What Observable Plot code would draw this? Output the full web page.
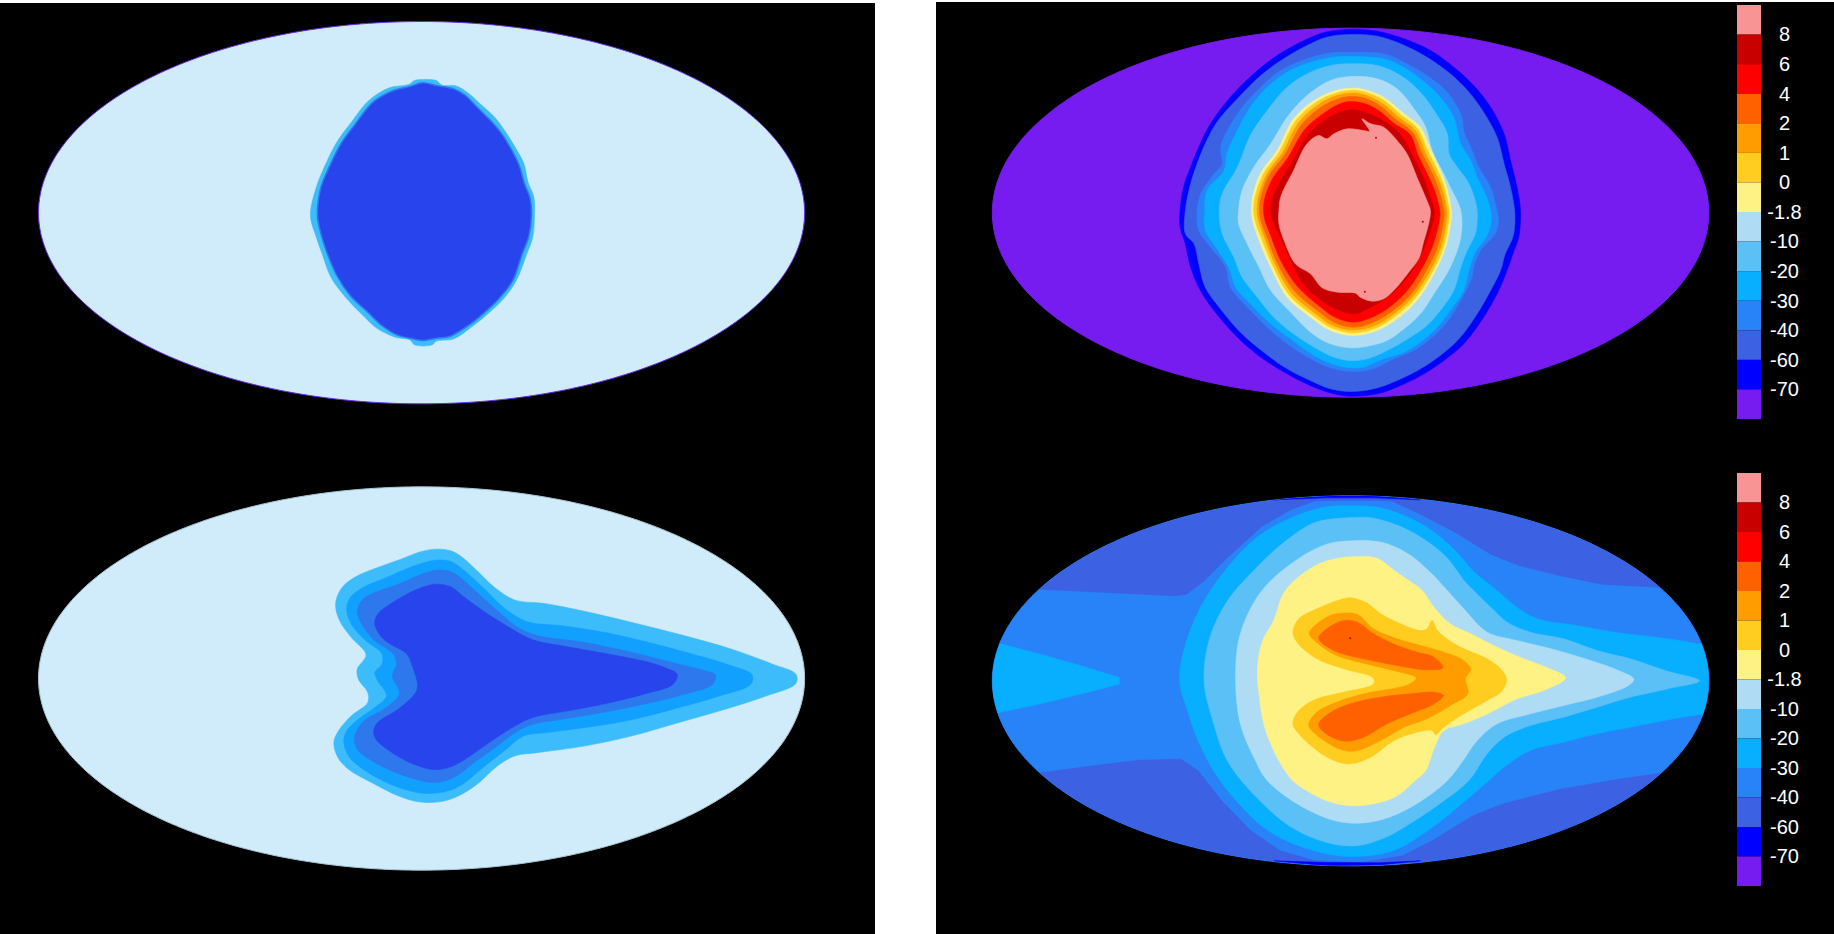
<!DOCTYPE html>
<html>
<head>
<meta charset="utf-8">
<script src="https://cdn.jsdelivr.net/npm/d3@7"></script>
<script src="https://cdn.jsdelivr.net/npm/@observablehq/plot@0.6"></script>
<style>
html,body{margin:0;padding:0;background:#fff;}
#page{position:relative;width:1834px;height:934px;overflow:hidden;background:#fff;}
</style>
</head>
<body>
<div id="page"></div>
<script>
// Contour levels and their colours
const tickLabels = ["8","6","4","2","1","0","-1.8","-10","-20","-30","-40","-60","-70"];
const levelColors = ["#f99494","#c80000","#ff0000","#ff6000","#ff9c00","#ffcc20","#fff285","#aedcf5","#5ac0f5","#08aeff","#2882f8","#3c61e2","#0000ff","#761cf0"];
const leftColors = {base:"#d0ebfa", ring1:"#3cbcfa", ring2:"#12a0ff", ring3:"#2e78ee", core:"#2844ec"};

// Map extents [xmin,xmax,ymin,ymax] in map units
const extentA = [65,1375,63,1210];
const extentB = [128,1353,83,1190];
const extentC = [65,1375,58,1208];
const extentD = [128,1353,85,1195];

// Panel A (top left) contours
const a_ring = [[722,237],[745,240],[755,254],[778,256],[800,278],[820,310],[845,350],[862,390],[880,440],[895,490],[902,545],[912,590],[913,640],[910,710],[900,760],[882,840],[860,895],[830,945],[805,980],[775,1015],[745,1022],[738,1033],[708,1033],[700,1018],[675,1010],[645,985],[620,945],[590,890],[565,830],[550,760],[540,710],[530,645],[540,560],[555,495],[575,425],[600,365],[630,300],[665,262],[698,252],[708,240]];
const a_core = [[722,247],[745,255],[775,265],[795,285],[815,320],[838,360],[855,395],[873,445],[887,495],[896,550],[905,590],[908,640],[903,710],[892,760],[876,840],[853,893],[825,940],[800,975],[768,1008],[745,1013],[722,1020],[705,1015],[678,1003],[652,975],[628,935],[598,885],[575,825],[558,755],[548,700],[542,645],[548,560],[562,500],[582,430],[607,370],[637,305],[672,270],[700,258]];

// Panel C (bottom left) contours
const c_ring1 = [[745,245],[770,250],[790,270],[815,310],[845,360],[880,398],[930,408],[1000,432],[1080,465],[1170,505],[1250,545],[1320,590],[1360,620],[1360,648],[1310,685],[1230,730],[1160,765],[1080,805],[1000,835],[920,855],[880,865],[850,895],[815,950],[780,988],[750,1003],[715,1003],[680,985],[640,950],[595,905],[577,870],[570,825],[578,790],[600,745],[628,705],[628,675],[612,635],[610,605],[625,562],[600,510],[580,460],[573,410],[582,365],[605,330],[645,300],[685,275],[720,252]];
const c_ring2 = [[745,278],[770,282],[790,305],[825,360],[860,420],[885,450],[905,465],[960,475],[1040,497],[1120,530],[1200,568],[1250,595],[1285,622],[1283,650],[1230,685],[1150,725],[1070,760],[1000,780],[935,795],[895,805],[865,845],[825,900],[790,950],[765,970],[730,978],[700,970],[660,945],[620,905],[597,870],[587,825],[592,790],[612,755],[640,720],[660,685],[645,640],[640,615],[652,590],[652,558],[625,520],[600,470],[592,425],[598,390],[620,360],[660,330],[700,300],[725,285]];
const c_ring3 = [[745,308],[770,312],[790,335],[815,375],[850,430],[885,480],[920,505],[1000,525],[1080,555],[1160,590],[1205,610],[1222,622],[1218,650],[1170,680],[1100,710],[1030,735],[960,755],[910,770],[885,790],[850,835],[810,885],[775,930],[745,945],[720,940],[680,918],[640,885],[612,850],[605,815],[612,780],[625,755],[655,725],[682,680],[670,625],[677,590],[672,560],[640,520],[618,470],[610,430],[620,395],[640,375],[680,350],[720,320]];
const c_core = [[745,350],[770,358],[790,385],[825,430],[870,480],[910,517],[960,535],[1040,560],[1110,585],[1140,603],[1157,620],[1150,650],[1100,680],[1030,710],[970,730],[910,750],[880,775],[840,820],[785,885],[760,903],[735,905],[700,885],[665,850],[642,815],[638,790],[645,765],[680,725],[710,675],[713,650],[703,590],[695,560],[655,515],[640,470],[645,440],[680,395],[720,360]];

// Panel B (top right) contours
const b_m70 = [[740,87],[786,92],[832,115],[877,150],[917,200],[951,255],[980,320],[1003,400],[1014,480],[1025,560],[1031,630],[1028,710],[1020,750],[1008,810],[991,880],[968,950],[934,1030],[900,1080],[866,1120],[826,1155],[786,1180],[740,1187],[712,1180],[678,1160],[632,1120],[587,1070],[547,1010],[507,930],[484,870],[467,800],[458,730],[449,680],[449,630],[455,560],[467,500],[481,440],[501,370],[535,290],[575,220],[615,165],[661,120],[698,95]];
const b_m60 = [[740,102],[786,107],[826,130],[871,170],[911,220],[943,275],[968,335],[991,410],[1003,490],[1014,560],[1021,630],[1021,680],[1017,715],[1005,760],[997,810],[980,870],[957,940],[926,1015],[894,1065],[860,1105],[820,1140],[780,1165],[740,1173],[706,1165],[678,1145],[632,1105],[592,1055],[552,995],[518,925],[492,860],[481,790],[473,730],[458,700],[458,630],[467,550],[478,490],[492,430],[512,365],[547,295],[587,225],[626,175],[666,135],[700,110]];
const b_m40 = [[740,155],[797,160],[832,185],[871,225],[906,275],[931,350],[934,390],[951,460],[960,500],[980,560],[991,630],[994,660],[988,700],[963,750],[951,800],[948,830],[929,900],[903,970],[877,1015],[849,1050],[815,1075],[780,1105],[740,1113],[703,1100],[672,1075],[632,1030],[598,980],[564,920],[535,860],[527,800],[501,740],[481,690],[478,630],[484,580],[507,520],[521,490],[518,440],[547,340],[581,270],[621,210],[666,175],[706,157]];
const b_m30 = [[740,168],[797,175],[826,195],[860,235],[894,290],[917,350],[929,430],[946,480],[957,530],[971,580],[980,630],[981,660],[974,705],[954,755],[943,810],[934,870],[911,930],[889,980],[860,1025],[832,1055],[797,1075],[763,1100],[740,1102],[712,1092],[678,1065],[638,1015],[604,970],[569,910],[544,860],[532,800],[510,740],[492,690],[491,630],[495,570],[524,510],[529,460],[544,400],[569,320],[598,260],[632,215],[672,185],[712,170]];
const b_m20 = [[740,190],[786,195],[826,225],[860,275],[889,345],[906,400],[909,460],[923,500],[940,540],[952,590],[957,630],[957,660],[954,700],[940,750],[929,800],[917,870],[894,930],[871,975],[843,1010],[803,1050],[769,1075],[740,1080],[712,1070],[678,1040],[643,1000],[609,950],[581,890],[555,830],[541,770],[521,700],[516,630],[521,580],[544,510],[552,480],[569,405],[598,330],[632,260],[672,215],[706,195]];
const b_m10 = [[740,228],[786,235],[820,265],[849,325],[869,380],[880,450],[897,510],[911,560],[929,630],[929,710],[911,800],[883,880],[860,940],[832,985],[803,1020],[775,1035],[740,1042],[706,1030],[672,995],[638,935],[604,870],[584,800],[561,720],[549,670],[549,630],[555,570],[575,500],[604,430],[632,350],[666,285],[706,240]];
const b_m2 = [[740,263],[763,267],[797,290],[832,340],[860,380],[877,445],[889,490],[903,550],[913,630],[913,650],[903,740],[883,820],[854,900],[820,955],[786,990],[746,1005],[706,990],[672,950],[632,890],[604,800],[584,720],[572,650],[572,600],[586,520],[615,450],[643,355],[678,300],[712,272]];
const b_0 = [[740,270],[763,274],[795,297],[828,345],[855,385],[872,450],[885,495],[899,552],[909,630],[909,650],[899,740],[879,818],[850,895],[816,948],[784,982],[746,997],[708,982],[676,944],[636,884],[608,797],[589,717],[576,650],[576,600],[591,522],[619,453],[647,360],[682,305],[714,279]];
const b_1 = [[740,278],[762,282],[792,305],[824,352],[851,390],[868,455],[881,500],[895,555],[905,630],[905,650],[895,738],[875,815],[846,890],[813,942],[782,975],[746,988],[710,975],[680,938],[640,878],[612,793],[594,714],[582,650],[582,600],[596,525],[624,457],[652,366],[686,312],[716,286]];
const b_2 = [[740,288],[762,292],[790,315],[820,360],[847,396],[863,460],[876,505],[890,560],[900,630],[900,650],[890,735],[870,810],[842,885],[809,935],[779,965],[746,980],[712,965],[684,930],[644,870],[616,790],[598,712],[586,650],[586,600],[600,528],[628,462],[657,372],[690,320],[718,296]];
const b_4 = [[740,303],[765,310],[788,330],[814,368],[842,402],[856,465],[870,515],[884,570],[893,630],[893,650],[882,730],[862,805],[835,875],[803,925],[775,952],[746,965],[716,952],[688,918],[650,858],[622,783],[604,705],[593,650],[593,600],[607,535],[634,470],[663,385],[695,338],[720,312]];
const b_6 = [[740,328],[770,338],[800,365],[825,400],[845,460],[862,520],[875,580],[883,630],[883,650],[870,725],[850,800],[820,865],[795,900],[770,925],[746,940],[720,928],[695,905],[660,850],[640,785],[622,715],[606,650],[606,600],[625,530],[645,470],[672,395],[705,350]];
const b_8 = [[760,355],[775,370],[797,380],[820,420],[837,460],[854,530],[871,600],[877,630],[874,670],[866,720],[857,775],[840,815],[817,865],[797,895],[777,902],[757,890],[749,878],[718,875],[692,862],[672,820],[646,790],[629,730],[618,670],[618,630],[621,590],[643,510],[666,430],[686,405],[700,415],[712,400],[735,385],[763,390],[773,392]];
const b_spots = [[784,412],[864,664],[765,874]];

// Panel D (bottom right) contours
const d_capTop = [[0,365],[210,365],[440,385],[460,380],[490,340],[530,270],[590,175],[640,125],[680,100],[760,98],[810,100],[860,140],[920,195],[980,260],[1030,295],[1100,325],[1170,350],[1280,360],[1400,360],[1400,0],[0,0]];
const d_capBottom = [[0,915],[215,915],[300,895],[380,878],[450,875],[480,910],[520,1000],[570,1090],[620,1150],[680,1180],[760,1185],[830,1165],[880,1120],[950,1045],[1000,1010],[1100,965],[1200,935],[1280,915],[1400,915],[1400,1300],[0,1300]];
const d_poleTop = [[610,97],[700,91],[780,91],[860,97],[780,85],[700,85]];
const d_poleBottom = [[610,1180],[700,1185],[790,1186],[860,1180],[790,1192],[700,1195]];
const d_wing = [[100,525],[145,530],[220,565],[290,600],[345,630],[345,650],[290,675],[220,705],[140,735],[100,745]];
const d_m30 = [[745,115],[790,120],[840,150],[880,190],[920,250],[950,310],[991,369],[1025,419],[1060,454],[1128,474],[1191,494],[1290,515],[1345,530],[1400,525],[1400,740],[1345,740],[1219,779],[1162,799],[1105,824],[1048,849],[1003,899],[977,939],[930,1010],[880,1080],[820,1145],[770,1165],[720,1165],[660,1140],[600,1090],[550,1010],[510,920],[480,820],[460,720],[448,640],[460,520],[490,400],[530,300],[580,210],[640,150],[700,118]];
const d_m20 = [[745,150],[780,152],[830,180],[870,220],[905,270],[935,340],[951,369],[986,429],[1008,464],[1048,494],[1105,514],[1162,549],[1219,574],[1280,610],[1337,640],[1280,665],[1219,689],[1162,719],[1105,749],[1048,774],[1003,809],[974,859],[943,939],[900,1000],[850,1060],[800,1110],[750,1135],[700,1125],[640,1080],[580,990],[530,880],[505,760],[490,640],[500,510],[530,400],[580,300],[630,220],[680,165]];
const d_m10 = [[745,220],[795,225],[840,260],[880,320],[906,369],[934,424],[974,494],[1025,519],[1094,549],[1151,579],[1200,610],[1225,635],[1215,655],[1162,689],[1105,714],[1048,739],[991,769],[957,819],[929,889],[906,939],[870,990],[820,1040],[770,1065],[720,1062],[660,1020],[598,939],[575,869],[552,769],[544,629],[552,499],[589,369],[650,275],[700,230]];
const d_m2 = [[750,268],[785,272],[820,315],[845,345],[863,369],[883,419],[911,469],[946,499],[991,539],[1037,574],[1077,601],[1108,631],[1071,669],[1025,694],[980,734],[934,769],[900,789],[884,839],[869,909],[851,939],[820,985],[790,1005],[745,1015],[700,1000],[645,945],[632,919],[609,849],[592,769],[584,679],[581,609],[590,520],[609,459],[629,369],[680,295],[720,272]];
const d_0 = [[740,391],[769,407],[792,439],[820,464],[860,489],[871,484],[880,459],[889,489],[923,534],[974,574],[997,604],[1007,634],[1000,669],[974,699],[934,739],[900,779],[886,801],[880,789],[854,794],[815,819],[775,869],[740,889],[712,879],[683,849],[652,799],[642,769],[652,729],[683,694],[729,674],[780,649],[779,631],[729,604],[683,574],[649,524],[642,494],[652,454],[683,424],[718,399]];
const d_1 = [[729,437],[752,441],[780,484],[820,514],[860,534],[900,554],[929,574],[946,604],[937,634],[941,679],[911,714],[871,754],[832,779],[792,819],[752,849],[729,849],[695,819],[672,784],[669,769],[683,734],[717,704],[763,679],[840,651],[853,631],[814,609],[763,587],[717,564],[689,534],[670,497],[683,469],[706,444]];
const d_2a = [[729,459],[752,464],[780,499],[820,534],[854,554],[883,569],[898,601],[871,607],[820,594],[763,574],[712,549],[686,512],[700,484]];
const d_2b = [[883,674],[899,684],[883,709],[843,739],[803,769],[763,809],[732,821],[703,804],[686,772],[703,739],[740,709],[792,689],[843,679]];
const d_spots = [[740,512]];

const page = document.getElementById("page");
let clipId = 0;

// Closed filled contour, smoothed unless told otherwise
const contour = (pts, fill, opt = {}) => Plot.line(pts, {
  x: d => d[0], y: d => d[1],
  curve: opt.curve || "catmull-rom-closed",
  fill, stroke: opt.stroke || fill, strokeWidth: opt.strokeWidth ?? 0.6
});

// The map frame as an ellipse through the extent
function frame([x0,x1,y0,y1]) {
  return d3.range(0,360,1).map(a => {
    const t = a*Math.PI/180;
    return [(x0+x1)/2 + (x1-x0)/2*Math.cos(t), (y0+y1)/2 + (y1-y0)/2*Math.sin(t)];
  });
}

function panel({left, top, width, height, cropLeft, cropTop, extent, base, outline, layers, extras = []}) {
  const svg = Plot.plot({
    width, height, margin: 0,
    x: {domain:[0,1568], range:[cropLeft-left, cropLeft-left+917], axis:null},
    y: {domain:[0,1401], range:[cropTop-top, cropTop-top+467], axis:null},
    style: {background:"#000", position:"absolute", left:left+"px", top:top+"px", maxWidth:"none", height:height+"px"},
    marks: [
      contour(frame(extent), base, {curve:"linear-closed", stroke:outline || base, strokeWidth:1}),
      ...layers,
      ...extras
    ]
  });
  // keep the contours inside the map frame
  const ns = "http://www.w3.org/2000/svg", id = "mapclip"+(clipId++);
  const sx = svg.scale("x"), sy = svg.scale("y");
  const cp = document.createElementNS(ns,"clipPath"); cp.setAttribute("id",id);
  const el = document.createElementNS(ns,"ellipse");
  el.setAttribute("cx",sx.apply((extent[0]+extent[1])/2));
  el.setAttribute("cy",sy.apply((extent[2]+extent[3])/2));
  el.setAttribute("rx",(sx.apply(extent[1])-sx.apply(extent[0]))/2);
  el.setAttribute("ry",(sy.apply(extent[3])-sy.apply(extent[2]))/2);
  cp.appendChild(el); svg.insertBefore(cp, svg.firstChild);
  [...svg.querySelectorAll('g[aria-label="line"]')].slice(1).forEach(g => g.setAttribute("clip-path",`url(#${id})`));
  page.appendChild(svg);
}

function colorbar(top, height) {
  const svg = Plot.plot({
    width: 97, height, margin: 0,
    x: {domain:[0,1], range:[0,24], axis:null},
    y: {domain:[0,levelColors.length], range:[0,height], axis:null},
    color: {type:"identity"},
    style: {background:"transparent", position:"absolute", left:"1737px", top:top+"px", maxWidth:"none", height:height+"px", overflow:"visible"},
    marks: [
      Plot.rect(levelColors, {x1:0, x2:1, y1:(d,i)=>i, y2:(d,i)=>i+1, fill:d=>d}),
      Plot.text(tickLabels, {x:1, y:(d,i)=>i+1, text:d=>d, dx:23, fill:"#ffffff", fontSize:20, fontFamily:"'Liberation Sans',Arial,sans-serif"})
    ]
  });
  page.appendChild(svg);
}

panel({left:0, top:3, width:875, height:442, cropLeft:0, cropTop:0, extent:extentA, base:leftColors.base, outline:"#6a2ce0",
  layers:[contour(a_ring,leftColors.ring1), contour(a_core,leftColors.core,{stroke:leftColors.ring3,strokeWidth:1.5})]});
panel({left:0, top:445, width:875, height:489, cropLeft:0, cropTop:467, extent:extentC, base:leftColors.base, outline:"#a9c4d2",
  layers:[contour(c_ring1,leftColors.ring1), contour(c_ring2,leftColors.ring2), contour(c_ring3,leftColors.ring3), contour(c_core,leftColors.core)]});
panel({left:936, top:2, width:898, height:443, cropLeft:917, cropTop:0, extent:extentB, base:levelColors[13],
  layers:[
    contour(b_m70,levelColors[12]), contour(b_m60,levelColors[11]), contour(b_m40,levelColors[10]), contour(b_m30,levelColors[9]),
    contour(b_m20,levelColors[8]), contour(b_m10,levelColors[7]), contour(b_m2,levelColors[6]), contour(b_0,levelColors[5]),
    contour(b_1,levelColors[4]), contour(b_2,levelColors[3]), contour(b_4,levelColors[2]), contour(b_6,levelColors[1]), contour(b_8,levelColors[0])
  ],
  extras:[Plot.dot(b_spots,{x:d=>d[0],y:d=>d[1],r:1,fill:levelColors[1]})]});
panel({left:936, top:445, width:898, height:489, cropLeft:917, cropTop:467, extent:extentD, base:levelColors[10],
  layers:[
    contour(d_capTop,levelColors[11],{curve:"linear-closed"}), contour(d_capBottom,levelColors[11],{curve:"linear-closed"}),
    contour(d_poleTop,levelColors[12],{curve:"linear-closed"}), contour(d_poleBottom,levelColors[12],{curve:"linear-closed"}),
    contour(d_wing,levelColors[9],{curve:"linear-closed"}), contour(d_m30,levelColors[9]), contour(d_m20,levelColors[8]),
    contour(d_m10,levelColors[7]), contour(d_m2,levelColors[6]), contour(d_0,levelColors[5]), contour(d_1,levelColors[4]),
    contour(d_2a,levelColors[3]), contour(d_2b,levelColors[3])
  ],
  extras:[Plot.dot(d_spots,{x:d=>d[0],y:d=>d[1],r:1,fill:levelColors[1]})]});
colorbar(5, 414);
colorbar(473, 413);
</script>
</body>
</html>
